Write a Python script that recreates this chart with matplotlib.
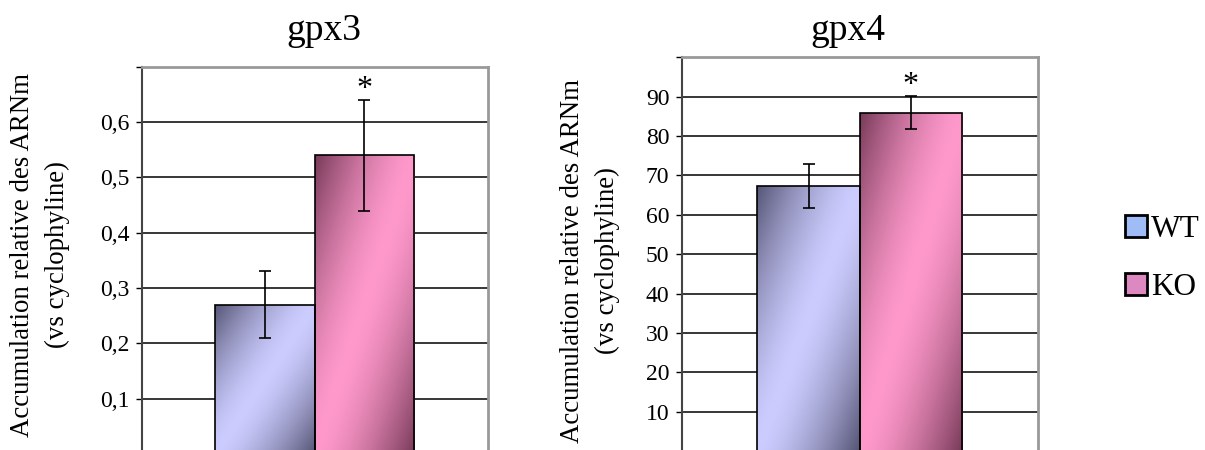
import numpy as np
import matplotlib
matplotlib.use('Agg')
import matplotlib.pyplot as plt
from matplotlib.patches import Rectangle
from matplotlib.colors import to_rgb

# ---------------- data ----------------
genes = ['gpx3', 'gpx4']
groups = ['WT', 'KO']
gpx3_means = [0.27, 0.54]
gpx3_errs = [0.061, 0.10]
gpx4_means = [67.4, 85.9]
gpx4_errs = [5.6, 4.2]
significance = ['', '*']
gpx3_ticks = [0.1, 0.2, 0.3, 0.4, 0.5, 0.6, 0.7]
gpx3_ticklabels = ['0,1', '0,2', '0,3', '0,4', '0,5', '0,6', '']
gpx4_ticks = [10, 20, 30, 40, 50, 60, 70, 80, 90, 100]
gpx4_ticklabels = ['10', '20', '30', '40', '50', '60', '70', '80', '90', '']
ylabel = 'Accumulation relative des ARNm\n(vs cyclophyline)'

# ---------------- style ----------------
plt.rcParams['font.family'] = ['Liberation Serif', 'DejaVu Serif']
light_cols = [np.array(to_rgb('#ccccff')), np.array(to_rgb('#ff99cc'))]
dark_cols = [np.array(to_rgb('#545474')), np.array(to_rgb('#773a58'))]
legend_cols = ['#a0bcf6', '#de88c2']

W, H = 1205, 450
fig = plt.figure(figsize=(W / 100, H / 100), dpi=100)


def px_axes(left, top, right, bottom):
    return fig.add_axes([left / W, 1 - bottom / H, (right - left) / W, (bottom - top) / H])


def gradient_fill(ax, bar, light, dark):
    x0, y0 = bar.get_x(), bar.get_y()
    w, h = bar.get_width(), bar.get_height()
    n = 256
    u = np.linspace(0, 1, n)
    U, V = np.meshgrid(u, u)
    t = (U + V) / 2.0
    d = (np.abs(t - 0.5) * 2.0) ** 1.5
    img = light[None, None, :] + (dark - light)[None, None, :] * d[..., None]
    im = ax.imshow(img, extent=(x0, x0 + w, y0, y0 + h), origin='upper',
                   aspect='auto', zorder=2, interpolation='bilinear')
    im.set_clip_path(bar)


def draw_panel(ax, title, means, errs, ticks, ticklabels, ymax, title_x, ylab_xy):
    bw = 0.2876
    xs = [-bw / 2, bw / 2]
    bars = ax.bar(xs, means, width=bw, facecolor='none', edgecolor='black',
                  linewidth=1.2, zorder=3)
    for i, b in enumerate(bars):
        gradient_fill(ax, b, light_cols[i], dark_cols[i])
    ax.errorbar(xs, means, yerr=errs, fmt='none', ecolor='black', elinewidth=1.2,
                capsize=4.3, capthick=1.2, zorder=4)
    for x, m, e, s in zip(xs, means, errs, significance):
        if s:
            ax.annotate(s, xy=(x, m + e), xytext=(0, 2.0), textcoords='offset points',
                        ha='center', va='baseline', fontsize=23, zorder=5)
    ax.set_xlim(-0.5, 0.5)
    ax.set_ylim(0, ymax)
    ax.set_xticks([])
    ax.set_yticks(ticks)
    ax.set_yticklabels(ticklabels)
    ax.tick_params(axis='y', direction='out', length=4.3, width=1, labelsize=17,
                   pad=4.5, color='black')
    ax.yaxis.grid(True, color='black', linewidth=1.1, zorder=0.5)
    ax.set_axisbelow(True)
    ax.spines['bottom'].set_visible(False)
    ax.spines['left'].set_color('#444444')
    ax.spines['left'].set_linewidth(1.5)
    for s in ('top', 'right'):
        ax.spines[s].set_color('#999999')
        ax.spines[s].set_linewidth(2.0)
        ax.spines[s].set_zorder(6)
    fig.text(title_x / W, 1 - 40 / H, title, ha='center', va='baseline', fontsize=27)
    fig.text(ylab_xy[0] / W, 1 - ylab_xy[1] / H, ylabel, rotation=90, ha='center',
             va='center', multialignment='center', fontsize=19.4, linespacing=1.5)


ax1 = px_axes(141.7, 66.7, 487.7, 454)
draw_panel(ax1, genes[0], gpx3_means, gpx3_errs, gpx3_ticks, gpx3_ticklabels, 0.7,
           323.5, (40, 255))

ax2 = px_axes(681.7, 57.3, 1037.7, 451)
draw_panel(ax2, genes[1], gpx4_means, gpx4_errs, gpx4_ticks, gpx4_ticklabels, 100,
           847.5, (590, 261))

handles = [Rectangle((0, 0), 1, 1, facecolor=c, edgecolor='black', linewidth=2)
           for c in legend_cols]
fig.legend(handles, groups, loc='center left',
           bbox_to_anchor=(1125 / W, 1 - 258.5 / H), frameon=False, fontsize=22.5,
           handlelength=0.7, handleheight=0.7, handletextpad=0.12,
           labelspacing=0.95, borderpad=0, borderaxespad=0)

fig.savefig('out.png', dpi=100)
